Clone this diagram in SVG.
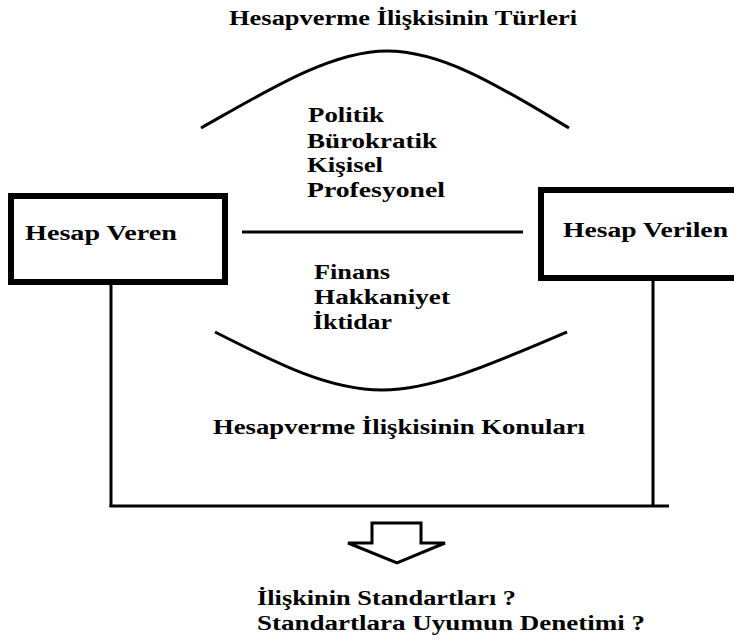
<svg xmlns="http://www.w3.org/2000/svg" width="734" height="640" viewBox="0 0 734 640">
<style>
.t{font-family:"Liberation Serif","Times New Roman",serif;font-weight:bold;font-size:20px;fill:#000}
.ln{fill:none;stroke:#000;stroke-width:3}
.box{fill:#fff;stroke:#000;stroke-width:6}
</style>
<rect width="734" height="640" fill="#fff"/>
<g id="connectors">
<path class="ln" d="M201,128 C265,92 330,51 387,51 C445,51 505,90 569,128"/>
<path class="ln" d="M215,332 C280,365 330,390 382,390 C432,390 490,365 567,332"/>
<line class="ln" x1="242" y1="232" x2="523" y2="232"/>
<line class="ln" x1="111" y1="284" x2="111" y2="507"/>
<line class="ln" x1="653" y1="280" x2="653" y2="507"/>
<line class="ln" x1="109.5" y1="506" x2="669" y2="506"/>
<polygon class="ln" style="fill:#fff" points="372,523 421,523 421,543 445,543 397,563 348,543 372,543"/>
</g>
<g id="title-turler"><text class="t" x="229" y="25" textLength="348" lengthAdjust="spacingAndGlyphs">Hesapverme İlişkisinin Türleri</text></g>
<g id="turler">
<text class="t" x="308" y="122" textLength="76" lengthAdjust="spacingAndGlyphs">Politik</text>
<text class="t" x="307" y="148" textLength="130" lengthAdjust="spacingAndGlyphs">Bürokratik</text>
<text class="t" x="307" y="172" textLength="76" lengthAdjust="spacingAndGlyphs">Kişisel</text>
<text class="t" x="307" y="197" textLength="138" lengthAdjust="spacingAndGlyphs">Profesyonel</text>
</g>
<g id="hesap-veren">
<rect class="box" x="11" y="196" width="214" height="86"/>
<text class="t" x="25" y="240" textLength="152" lengthAdjust="spacingAndGlyphs">Hesap Veren</text>
</g>
<g id="hesap-verilen">
<rect class="box" x="541" y="190" width="220" height="88"/>
<text class="t" x="563" y="237" textLength="165" lengthAdjust="spacingAndGlyphs">Hesap Verilen</text>
</g>
<g id="konular">
<text class="t" x="314" y="279" textLength="76" lengthAdjust="spacingAndGlyphs">Finans</text>
<text class="t" x="314" y="304" textLength="136" lengthAdjust="spacingAndGlyphs">Hakkaniyet</text>
<text class="t" x="313" y="329" textLength="79" lengthAdjust="spacingAndGlyphs">İktidar</text>
</g>
<g id="title-konular"><text class="t" x="213" y="434" textLength="372" lengthAdjust="spacingAndGlyphs">Hesapverme İlişkisinin Konuları</text></g>
<g id="standartlar">
<text class="t" x="257" y="605" textLength="259" lengthAdjust="spacingAndGlyphs">İlişkinin Standartları ?</text>
<text class="t" x="257" y="630" textLength="388" lengthAdjust="spacingAndGlyphs">Standartlara Uyumun Denetimi ?</text>
</g>
</svg>
